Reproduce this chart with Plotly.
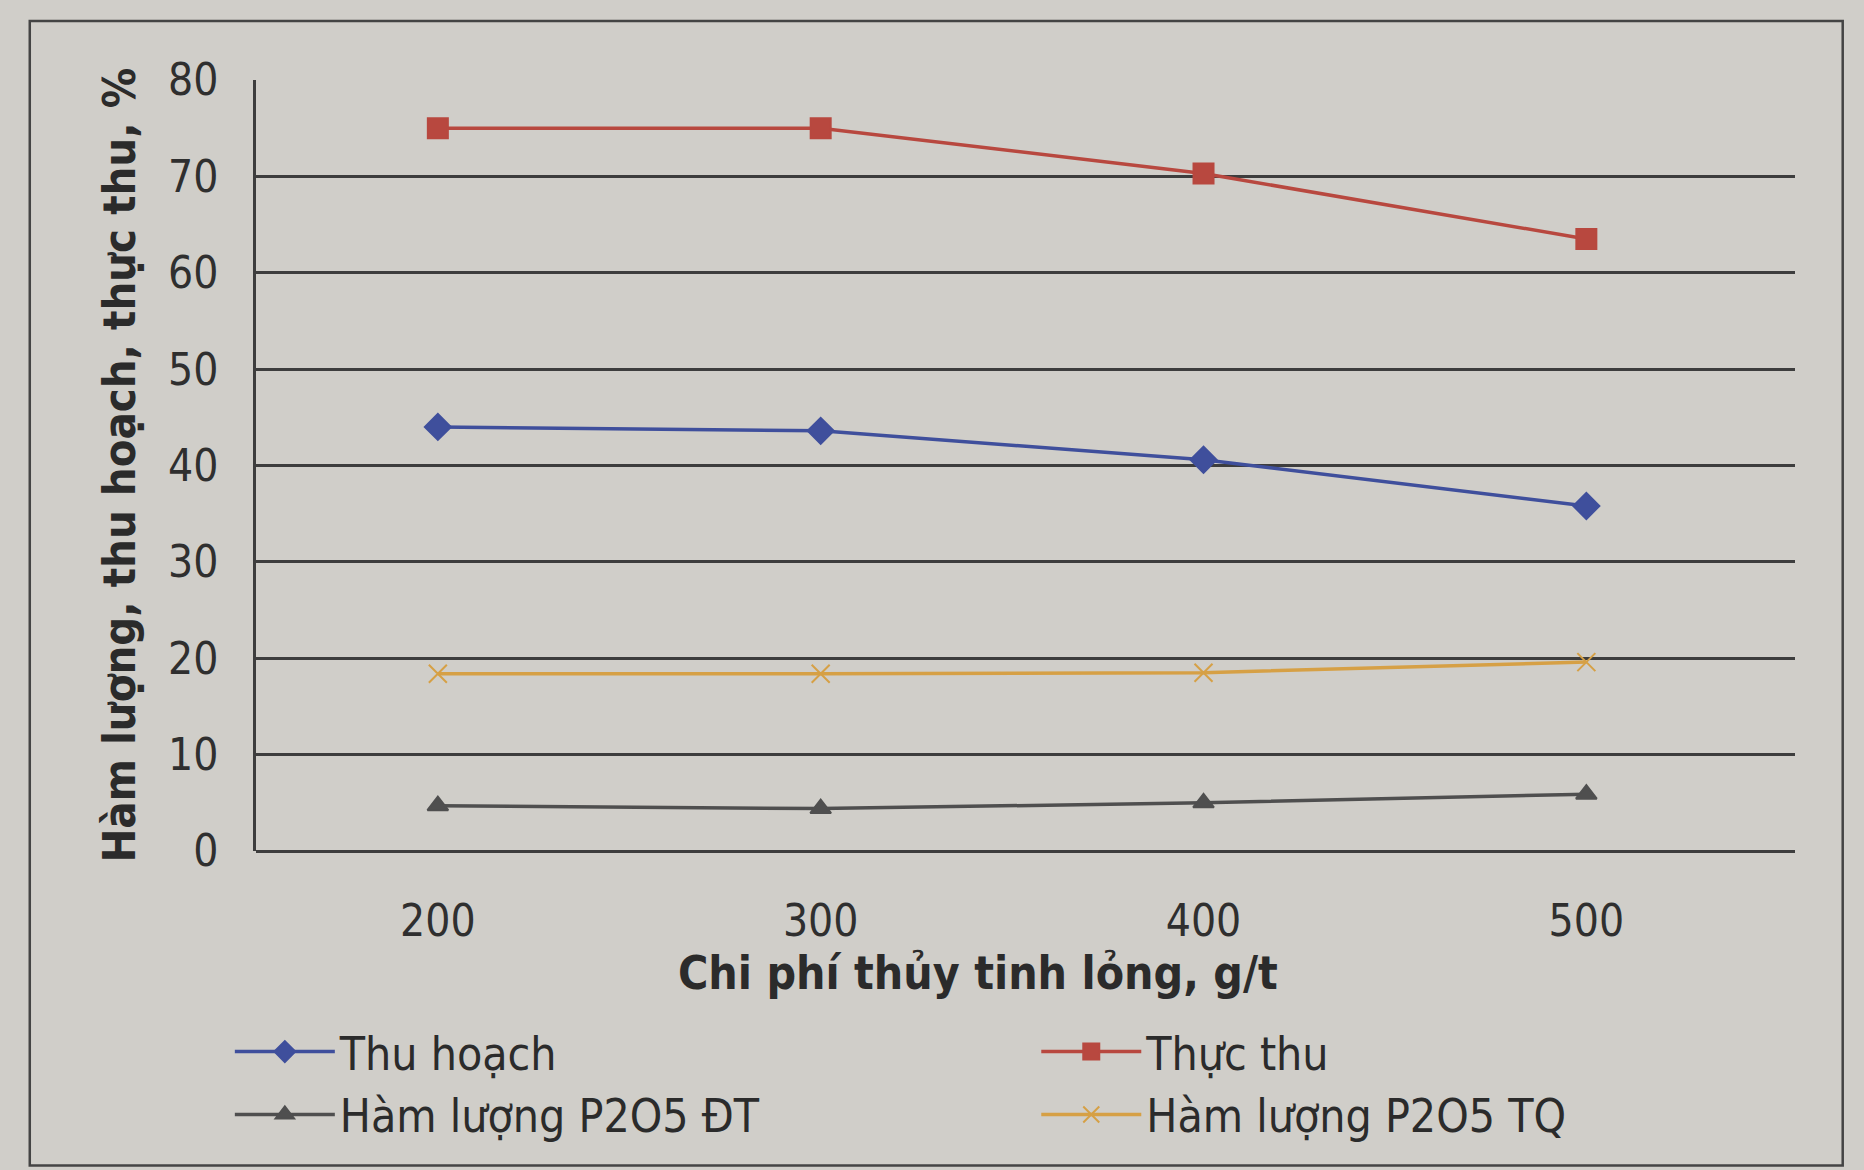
import plotly.graph_objects as go

categories = ["200", "300", "400", "500"]
thu_hoach = [44.0, 43.6, 40.6, 35.8]
thuc_thu = [75.0, 75.0, 70.3, 63.5]
p2o5_dt = [4.7, 4.4, 5.0, 5.9]
p2o5_tq = [18.4, 18.4, 18.5, 19.6]

x_title = "Chi phí thủy tinh lỏng, g/t"
y_title = "Hàm lượng, thu hoạch, thực thu, %"
y_ticks = [0, 10, 20, 30, 40, 50, 60, 70, 80]

FONT = "DejaVu Sans Condensed, Liberation Sans, Arial"

series = [
    ("Thu hoạch", thu_hoach, "#3f4f9c", "diamond", 20, "legend"),
    ("Thực thu", thuc_thu, "#b8483f", "square", 20, "legend2"),
    ("Hàm lượng P2O5 ĐT", p2o5_dt, "#4f4f4f", "triangle-up", 18, "legend"),
    ("Hàm lượng P2O5 TQ", p2o5_tq, "#d6a045", "x-thin-open", 18, "legend2"),
]

fig = go.Figure()
for name, vals, color, sym, size, lg in series:
    fig.add_trace(go.Scatter(
        x=categories, y=vals, name=name, mode="lines+markers",
        line=dict(color=color, width=3.5),
        marker=dict(symbol=sym, size=size, color=color,
                    line=dict(color=color, width=2)),
        legend=lg,
    ))

legend_common = dict(
    orientation="v", xanchor="left", yanchor="top",
    itemwidth=100, font=dict(size=46, family=FONT, color="#2b2b2b"),
    bgcolor="rgba(0,0,0,0)", tracegroupgap=0,
)

fig.update_layout(
    width=1864, height=1170,
    margin=dict(l=256, r=69, t=80, b=319, autoexpand=False),
    paper_bgcolor="#d0cec9",
    plot_bgcolor="#d0cec9",
    showlegend=True,
    font=dict(family=FONT, color="#2b2b2b"),
    legend=dict(x=-0.017, y=-0.213, **legend_common),
    legend2=dict(x=0.507, y=-0.213, **legend_common),
    xaxis=dict(
        type="category", range=[-0.475, 3.545],
        showgrid=False, showline=False, zeroline=False,
        tickfont=dict(size=44, family=FONT, color="#2f2f2f"),
        ticks="", ticklabelstandoff=40,
    ),
    yaxis=dict(
        range=[0, 80], tickvals=y_ticks, showgrid=True, gridcolor="#3d3d3d",
        gridwidth=2.5, showline=True, linecolor="#3d3d3d", linewidth=2.5,
        zeroline=True, zerolinecolor="#3d3d3d", zerolinewidth=2.5,
        tickfont=dict(size=44, family=FONT, color="#2f2f2f"),
        ticks="", ticklabelstandoff=26,
    ),
    annotations=[
        dict(text="<b>" + x_title + "</b>", xref="paper", yref="paper",
             x=0.469, y=-0.158, xanchor="center", yanchor="middle",
             showarrow=False, font=dict(size=46, family=FONT, color="#2b2b2b")),
        dict(text="<b>" + y_title + "</b>", xref="paper", yref="paper",
             x=-0.089, y=0.5, xanchor="center", yanchor="middle", textangle=-90,
             showarrow=False, font=dict(size=45, family=FONT, color="#2b2b2b")),
    ],
    shapes=[
        dict(type="rect", xref="paper", yref="paper",
             x0=-0.147, x1=1.031, y0=-0.408, y1=1.0765,
             line=dict(color="#444444", width=2.5), fillcolor="rgba(0,0,0,0)",
             layer="below"),
    ],
)

fig.write_html("out.html")
